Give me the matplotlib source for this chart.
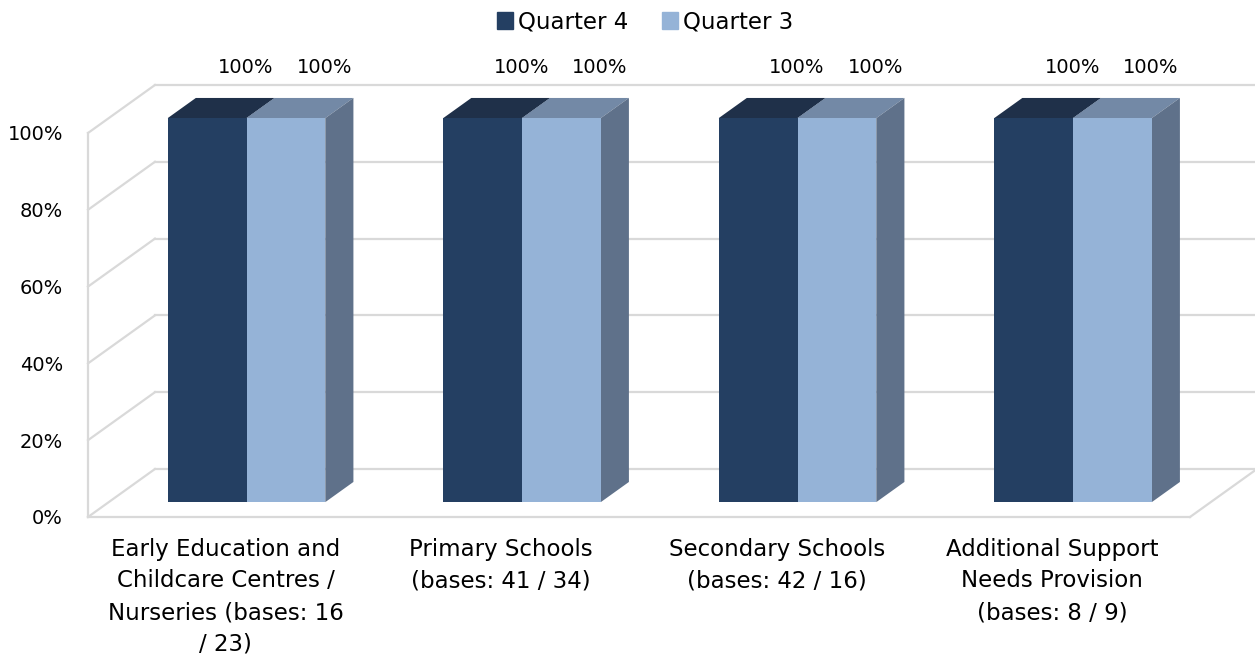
import numpy as np
import matplotlib.pyplot as plt
from matplotlib.patches import Polygon, Patch
from matplotlib.ticker import PercentFormatter

# Data
categories = ["Early Education and\nChildcare Centres /\nNurseries (bases: 16\n/ 23)",
              "Primary Schools\n(bases: 41 / 34)",
              "Secondary Schools\n(bases: 42 / 16)",
              "Additional Support\nNeeds Provision\n(bases: 8 / 9)"]
series_names = ["Quarter 4", "Quarter 3"]
q4 = [100, 100, 100, 100]
q3 = [100, 100, 100, 100]
values = [q4, q3]

front_cols = ["#243F62", "#95B3D7"]
top_cols = ["#1F3049", "#7389A6"]
side_cols = ["#5F718A", "#5F718A"]
grid_col = "#D9D9D9"

# fake 3d projection: depth moves points right (category units) and up (percent units)
DX, DY = 0.243, 12.5
z0, z1 = 0.31, 0.73
W = 0.286

plt.rcParams['font.family'] = ['DejaVu Sans']
fig = plt.figure(figsize=(12.55, 6.57), dpi=100)
ax = fig.add_axes([88 / 1255, 140 / 657, 1102 / 1255, 384 / 657])
ax.set_xlim(-0.5, 3.5)
ax.set_ylim(0, 100)
for s in ax.spines.values():
    s.set_visible(False)

n = len(categories)
x = np.arange(n)
ticks = np.arange(0, 101, 20)

# walls and floor
for t in ticks:
    ax.plot([-0.5 + DX, n - 0.5 + DX], [t + DY, t + DY], color=grid_col, lw=1.6, zorder=1, clip_on=False)
    ax.plot([-0.5, -0.5 + DX], [t, t + DY], color=grid_col, lw=1.6, zorder=1, clip_on=False)
ax.plot([-0.5, -0.5], [0, 100], color=grid_col, lw=1.6, zorder=1, clip_on=False)
ax.plot([-0.5, n - 0.5], [0, 0], color=grid_col, lw=1.6, zorder=1, clip_on=False)
ax.plot([n - 0.5, n - 0.5 + DX], [0, DY], color=grid_col, lw=1.6, zorder=1, clip_on=False)

dd = z1 - z0
for k, vals in enumerate(values):
    off = -W if k == 0 else 0
    lefts = x + off + z0 * DX
    bottom = z0 * DY
    ax.bar(lefts, vals, width=W, bottom=bottom, align='edge', color=front_cols[k],
           zorder=3, clip_on=False)
    for L, v in zip(lefts, vals):
        T = v + bottom
        top = Polygon([(L, T), (L + W, T), (L + W + dd * DX, T + dd * DY), (L + dd * DX, T + dd * DY)],
                      closed=True, facecolor=top_cols[k], edgecolor='none', zorder=2 + k * 0.1, clip_on=False)
        side = Polygon([(L + W, bottom), (L + W, T), (L + W + dd * DX, T + dd * DY),
                        (L + W + dd * DX, bottom + dd * DY)],
                       closed=True, facecolor=side_cols[k], edgecolor='none', zorder=2 + k * 0.1, clip_on=False)
        ax.add_patch(top)
        ax.add_patch(side)
        ax.text(L + W / 2 + 0.14, v + DY + 4.5, f"{v}%", ha='center', va='center',
                fontsize=14, color='black', clip_on=False)

ax.set_yticks(ticks)
ax.yaxis.set_major_formatter(PercentFormatter(decimals=0))
ax.set_xticks(x)
ax.set_xticklabels(categories, linespacing=1.48)
ax.tick_params(axis='y', length=0, pad=18, labelsize=14)
ax.tick_params(axis='x', length=0, pad=15, labelsize=16.5)

handles = [Patch(color=c, label=nm) for c, nm in zip(front_cols, series_names)]
fig.legend(handles=handles, loc='center', bbox_to_anchor=(645 / 1255, 1 - 22 / 657), ncol=2,
           frameon=False, fontsize=16.5, handlelength=0.7, handleheight=0.7,
           handletextpad=0.2, columnspacing=1.5)

fig.savefig("out.png", dpi=100)
